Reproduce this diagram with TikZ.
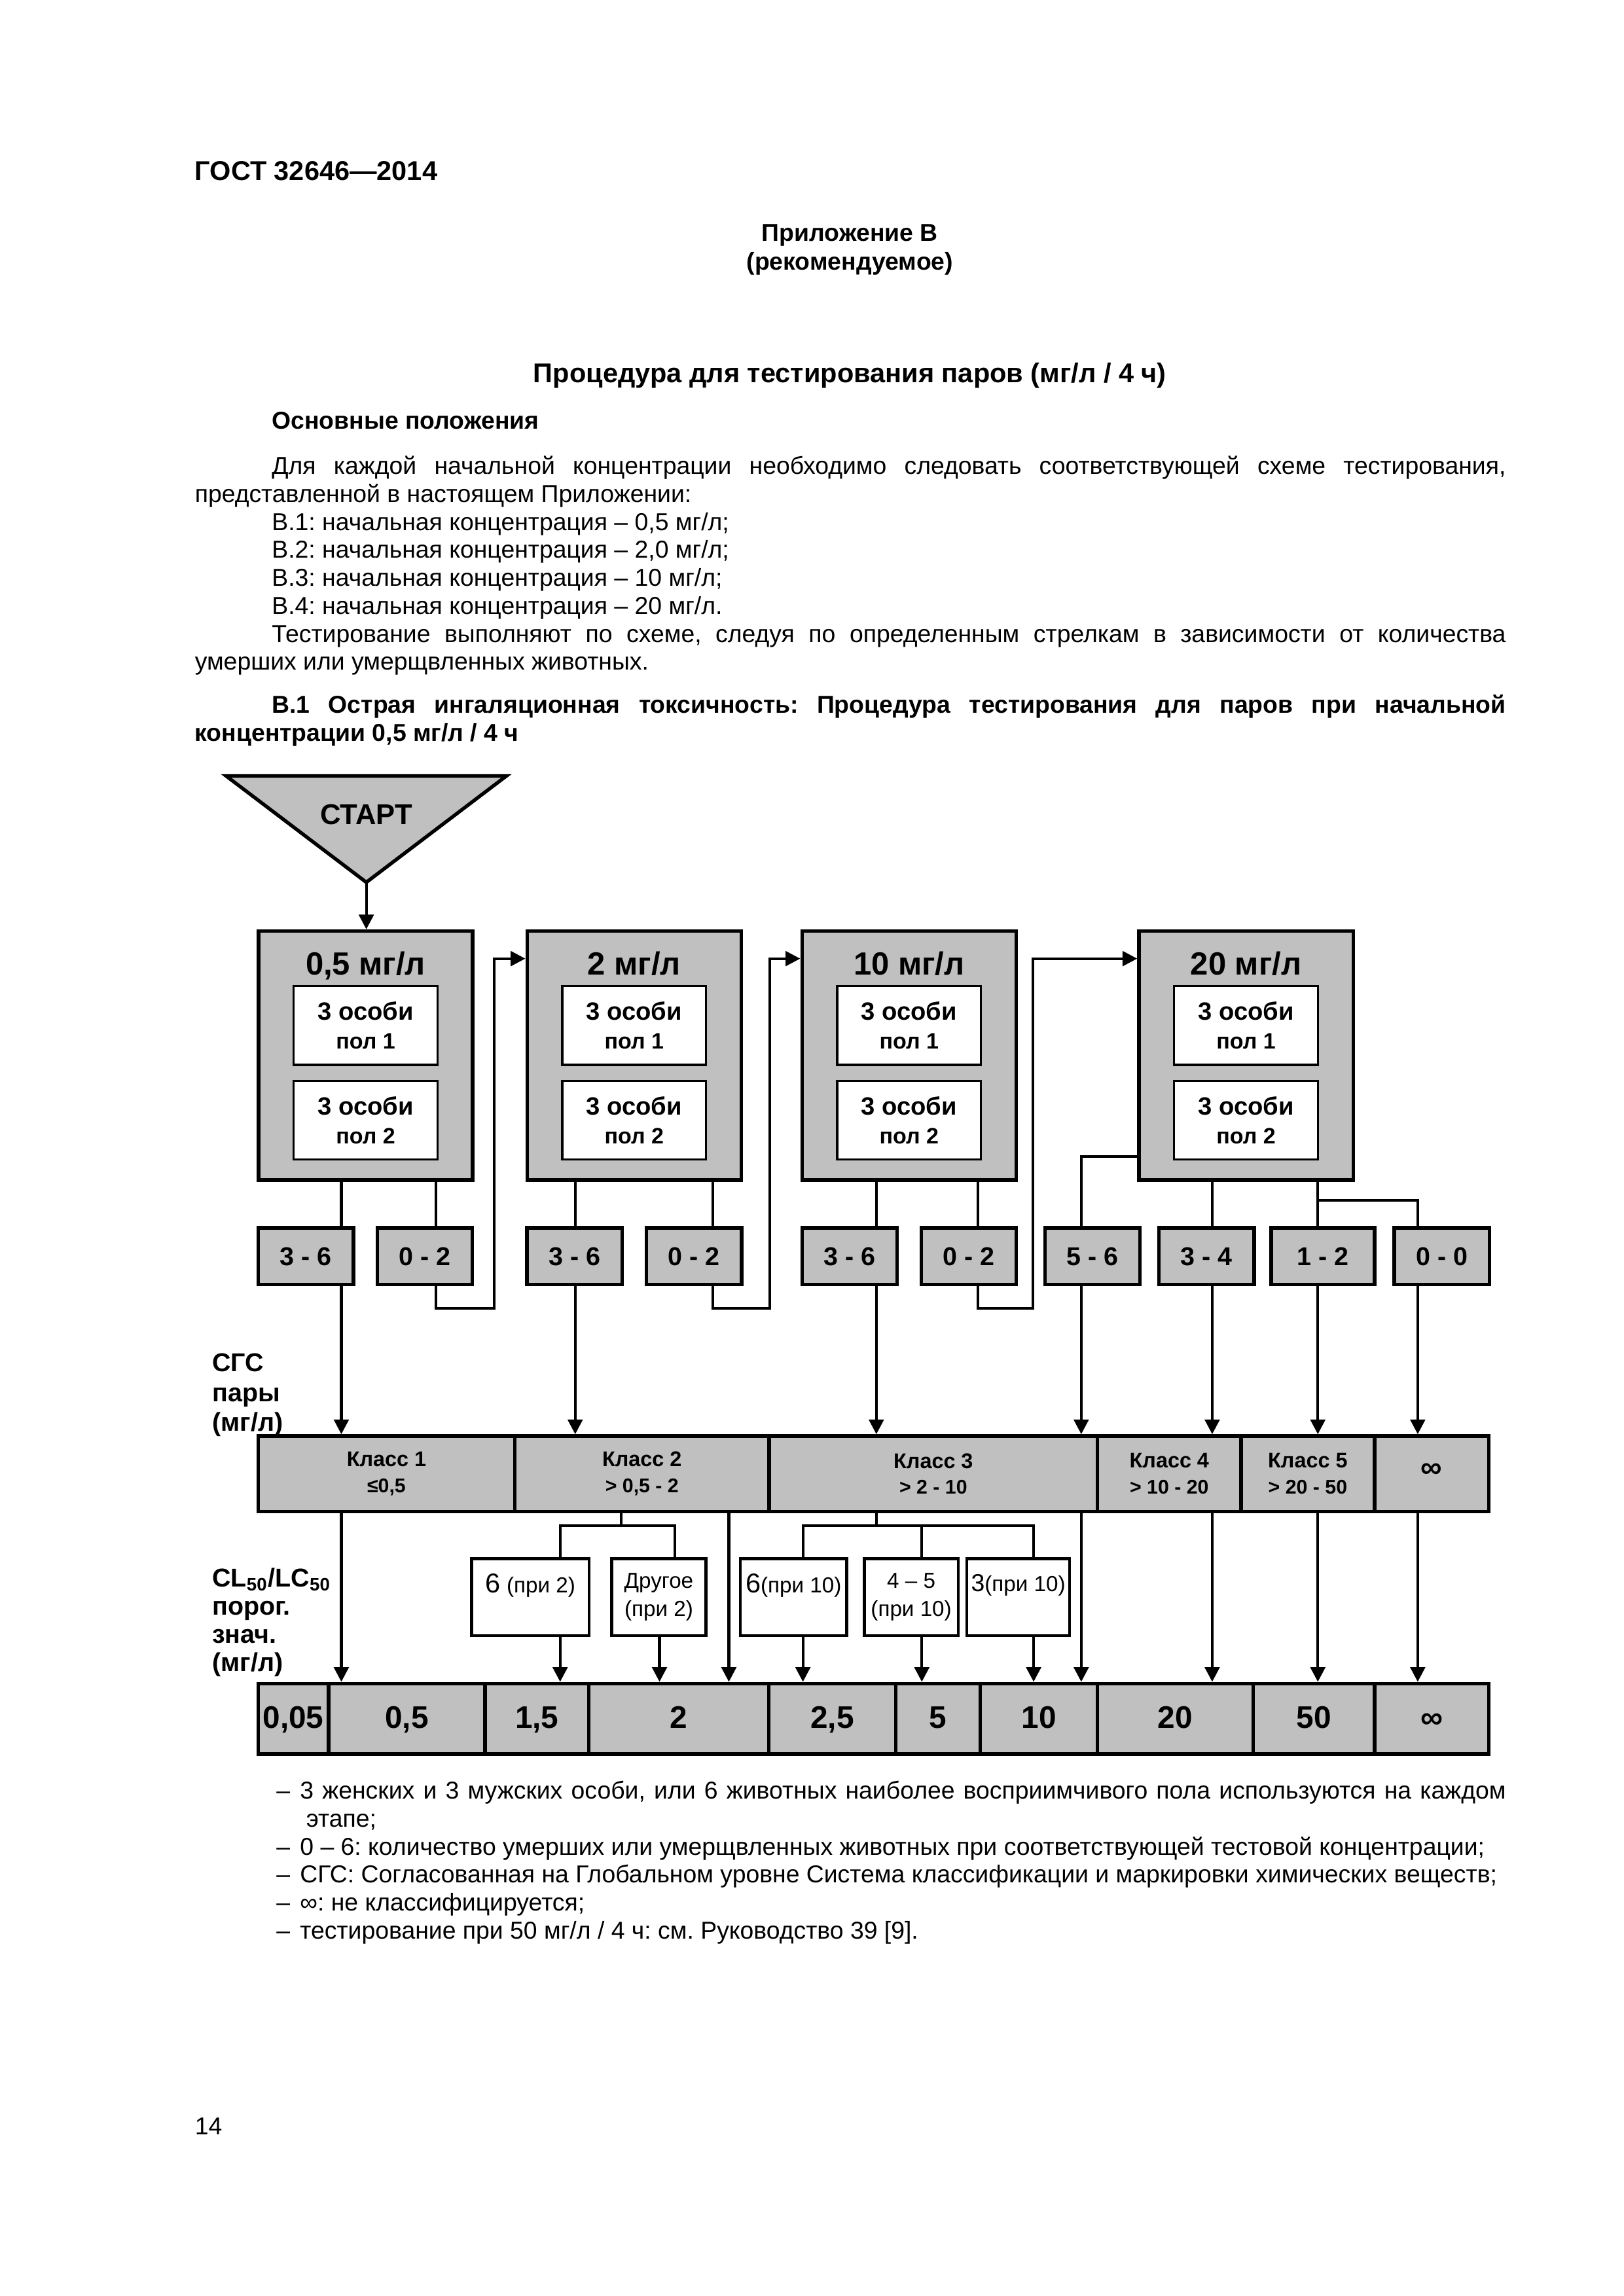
\documentclass[tikz,border=0pt]{standalone}
\usepackage{fontspec}
\setmainfont{Liberation Sans}
\usetikzlibrary{arrows.meta}
\definecolor{boxgray}{RGB}{192,192,192}
\hyphenpenalty=10000
\exhyphenpenalty=10000
\frenchspacing

\begin{document}
\begin{tikzpicture}[x=1mm,y=-1mm,every node/.style={inner sep=0pt},
    bodytext/.style={font=\fontsize{9}{10.3}\selectfont},
    bodybold/.style={font=\bfseries\fontsize{9}{10.45}\selectfont},
    concbox/.style={draw,line width=1.3pt,fill=boxgray,minimum width=27.7mm,minimum height=32.2mm},
    conctitle/.style={font=\bfseries\fontsize{11.8}{13}\selectfont,text height=3mm,text depth=0.6mm},
    groupbox/.style={draw,line width=0.8pt,fill=white,minimum width=18.6mm,minimum height=10.2mm,align=center,font=\bfseries\fontsize{9.2}{10.5}\selectfont},
    outbox/.style={draw,line width=1.3pt,fill=boxgray,minimum width=12.3mm,minimum height=7.3mm,font=\bfseries\fontsize{9.5}{11}\selectfont,text height=2.4mm,text depth=0mm},
    classcell/.style={draw,line width=1.3pt,fill=boxgray,minimum height=9.8mm,align=center,font=\bfseries\fontsize{7.8}{9.6}\selectfont},
    valcell/.style={draw,line width=1.3pt,fill=boxgray,minimum height=9.1mm,font=\bfseries\fontsize{11.5}{13}\selectfont,text height=2.9mm,text depth=0.5mm},
    notebox/.style={draw,line width=1.1pt,fill=white,minimum height=9.95mm,align=center,font=\fontsize{8}{10.3}\selectfont},
    sidelabel/.style={anchor=west,align=left,font=\bfseries\fontsize{9.5}{11}\selectfont},
    conn/.style={line width=1pt},
    arr/.style={conn,-{Triangle[length=1.9mm,width=1.9mm]}}]
    \fill[white] (0,0) rectangle (210,297);
    \useasboundingbox (0,0) rectangle (210,297);

    \node[anchor=base west,font=\bfseries\fontsize{10}{12}\selectfont] (gost) at (25.14,23.34) {ГОСТ 32646—2014};
    \node[anchor=base,bodybold] (annex) at (109.92,31.19) {Приложение В};
    \node[anchor=base,bodybold] (annextype) at (109.92,34.88) {(рекомендуемое)};
    \node[anchor=base,font=\bfseries\fontsize{10}{12}\selectfont] (title) at (109.92,49.5) {Процедура для тестирования паров (мг/л / 4 ч)};
    \node[anchor=base west,bodybold] (basics) at (35.1,55.5) {Основные положения};
    \node[anchor=base west,bodytext,text width=169.56mm,align=justify] (intro) at (25.14,61.35) {\hspace*{9.96mm}Для каждой начальной концентрации необходимо следовать соответствующей схеме тестирования,\linebreak представленной в настоящем Приложении:\par
    \hspace*{9.96mm}В.1: начальная концентрация – 0,5 мг/л;\par
    \hspace*{9.96mm}В.2: начальная концентрация – 2,0 мг/л;\par
    \hspace*{9.96mm}В.3: начальная концентрация – 10 мг/л;\par
    \hspace*{9.96mm}В.4: начальная концентрация – 20 мг/л.\par
    \hspace*{9.96mm}Тестирование выполняют по схеме, следуя по определенным стрелкам в зависимости от количества\linebreak умерших или умерщвленных животных.};
    \node[anchor=base west,bodybold,text width=169.56mm,align=justify] (b1head) at (25.14,92.24) {\hspace*{9.96mm}В.1 Острая ингаляционная токсичность: Процедура тестирования для паров при начальной\linebreak концентрации 0,5 мг/л / 4 ч};

    \draw[line width=1.3pt,fill=boxgray] (29.26,100.38) -- (65.49,100.38) -- (47.38,114.13) -- cycle;
    \coordinate (apex) at (47.38,114.13);
    \node[font=\bfseries\fontsize{10.5}{12}\selectfont] (start) at (47.38,105.39) {СТАРТ};

    \node[concbox] (c1) at (47.29,136.54) {};
    \node[conctitle] (c1t) at (47.29,124.9) {0,5 мг/л};
    \node[groupbox] (c1a) at (47.29,132.65) {3 особи\\{\fontsize{8.2}{10.5}\selectfont пол 1}};
    \node[groupbox] (c1b) at (47.29,144.9) {3 особи\\{\fontsize{8.2}{10.5}\selectfont пол 2}};
    \node[concbox] (c2) at (82.03,136.54) {};
    \node[conctitle] (c2t) at (82.03,124.9) {2 мг/л};
    \node[groupbox] (c2a) at (82.03,132.65) {3 особи\\{\fontsize{8.2}{10.5}\selectfont пол 1}};
    \node[groupbox] (c2b) at (82.03,144.9) {3 особи\\{\fontsize{8.2}{10.5}\selectfont пол 2}};
    \node[concbox] (c3) at (117.58,136.54) {};
    \node[conctitle] (c3t) at (117.58,124.9) {10 мг/л};
    \node[groupbox] (c3a) at (117.58,132.65) {3 особи\\{\fontsize{8.2}{10.5}\selectfont пол 1}};
    \node[groupbox] (c3b) at (117.58,144.9) {3 особи\\{\fontsize{8.2}{10.5}\selectfont пол 2}};
    \node[concbox] (c4) at (161.17,136.54) {};
    \node[conctitle] (c4t) at (161.17,124.9) {20 мг/л};
    \node[groupbox] (c4a) at (161.17,132.65) {3 особи\\{\fontsize{8.2}{10.5}\selectfont пол 1}};
    \node[groupbox] (c4b) at (161.17,144.9) {3 особи\\{\fontsize{8.2}{10.5}\selectfont пол 2}};

    \node[outbox] (o1a) at (39.57,162.49) {3 - 6};
    \node[outbox] (o1b) at (54.95,162.49) {0 - 2};
    \node[outbox] (o2a) at (74.31,162.49) {3 - 6};
    \node[outbox] (o2b) at (89.76,162.49) {0 - 2};
    \node[outbox] (o3a) at (109.88,162.49) {3 - 6};
    \node[outbox] (o3b) at (125.31,162.49) {0 - 2};
    \node[outbox] (o4a) at (141.30,162.49) {5 - 6};
    \node[outbox] (o4b) at (156.05,162.49) {3 - 4};
    \node[outbox,minimum width=13.36mm] (o4c) at (171.10,162.49) {1 - 2};
    \node[outbox] (o4d) at (186.48,162.49) {0 - 0};

    \node[sidelabel] (ghslabel) at (27.39,180.45) {СГС\\пары\\(мг/л)};
    \node[classcell,minimum width=33.21mm] (k1) at (49.99,190.65) {Класс 1\\{\fontsize{7.3}{9}\selectfont ≤0,5}};
    \node[classcell,minimum width=32.89mm] (k2) at (83.04,190.65) {Класс 2\\{\fontsize{7.3}{9}\selectfont > 0,5 - 2}};
    \node[classcell,minimum width=42.47mm] (k3) at (120.72,190.65) {Класс 3\\{\fontsize{7.3}{9}\selectfont > 2 - 10}};
    \node[classcell,minimum width=18.57mm] (k4) at (151.24,190.65) {Класс 4\\{\fontsize{7.3}{9}\selectfont > 10 - 20}};
    \node[classcell,minimum width=17.26mm] (k5) at (169.15,190.65) {Класс 5\\{\fontsize{7.3}{9}\selectfont > 20 - 50}};
    \node[classcell,minimum width=14.78mm,font=\bfseries\fontsize{11}{11}\selectfont] (kinf) at (185.17,190.65) {\raisebox{0.8mm}{∞}};

    \node[sidelabel,font=\bfseries\fontsize{9.5}{10.35}\selectfont] (cllabel) at (27.39,209.85) {CL\textsubscript{50}/LC\textsubscript{50}\\порог.\\знач.\\(мг/л)};
    \node[notebox,minimum width=15.21mm] (b1) at (68.61,206.59) {{\fontsize{10}{10}\selectfont 6} (при 2)\\~};
    \node[notebox,minimum width=12.18mm] (b2) at (85.21,206.59) {Другое\\(при 2)};
    \node[notebox,minimum width=13.74mm] (b3) at (102.63,206.59) {{\fontsize{10}{10}\selectfont 6}(при 10)\\~};
    \node[notebox,minimum width=12.16mm] (b4) at (117.86,206.59) {4 – 5\\(при 10)};
    \node[notebox,minimum width=13.30mm] (b5) at (131.70,206.59) {{\fontsize{9}{10}\selectfont 3}(при 10)\\~};

    \node[valcell,minimum width=9.10mm] (v005) at (37.93,222.33) {0,05};
    \node[valcell,minimum width=20.25mm] (v05) at (52.61,222.33) {0,5};
    \node[valcell,minimum width=13.42mm] (v15) at (69.44,222.33) {1,5};
    \node[valcell,minimum width=23.29mm] (v2) at (87.80,222.33) {2};
    \node[valcell,minimum width=16.44mm] (v25) at (107.66,222.33) {2,5};
    \node[valcell,minimum width=10.92mm] (v5) at (121.34,222.33) {5};
    \node[valcell,minimum width=15.15mm] (v10) at (134.38,222.33) {10};
    \node[valcell,minimum width=20.12mm] (v20) at (152.01,222.33) {20};
    \node[valcell,minimum width=15.71mm] (v50) at (169.93,222.33) {50};
    \node[valcell,minimum width=14.78mm] (vinf) at (185.17,222.33) {∞};

    \coordinate (L1) at (44.15,0);
    \coordinate (L2) at (56.39,0);
    \coordinate (L2r) at (63.89,0);
    \coordinate (L3) at (74.40,0);
    \coordinate (L4) at (92.22,0);
    \coordinate (L4r) at (99.53,0);
    \coordinate (L5) at (113.35,0);
    \coordinate (L6) at (126.50,0);
    \coordinate (L6r) at (133.57,0);
    \coordinate (L7) at (139.85,0);
    \coordinate (L8) at (156.79,0);
    \coordinate (L9) at (170.45,0);
    \coordinate (L10) at (183.37,0);
    \coordinate (K2s) at (80.31,0);
    \coordinate (K2a) at (72.45,0);
    \coordinate (K2b) at (87.26,0);
    \coordinate (K2d) at (85.30,0);
    \coordinate (K2e) at (94.27,0);
    \coordinate (K3a) at (103.85,0);
    \coordinate (K3b) at (119.23,0);
    \coordinate (K3c) at (133.69,0);
    \coordinate (loopy) at (0,169.21);
    \coordinate (entryy) at (0,124.0);
    \coordinate (y56) at (0,149.6);
    \coordinate (y12) at (0,155.3);
    \coordinate (treey) at (0,197.38);

    \draw[arr] (apex) -- (c1.north -| apex);
    \draw[conn] (c1.south -| L1) -- (o1a.north -| L1);
    \draw[conn] (c1.south -| L2) -- (o1b.north -| L2);
    \draw[conn] (c2.south -| L3) -- (o2a.north -| L3);
    \draw[conn] (c2.south -| L4) -- (o2b.north -| L4);
    \draw[conn] (c3.south -| L5) -- (o3a.north -| L5);
    \draw[conn] (c3.south -| L6) -- (o3b.north -| L6);
    \draw[conn] (c4.west |- y56) -| (o4a.north -| L7);
    \draw[conn] (c4.south -| L8) -- (o4b.north -| L8);
    \draw[conn] (c4.south -| L9) -- (o4c.north -| L9);
    \draw[conn] (L9 |- y12) -| (o4d.north -| L10);

    \draw[arr] (o1a.south -| L1) -- (k1.north -| L1);
    \draw[arr] (o1b.south -| L2) |- (L2r |- loopy) |- (c2.west |- entryy);
    \draw[arr] (o2a.south -| L3) -- (k2.north -| L3);
    \draw[arr] (o2b.south -| L4) |- (L4r |- loopy) |- (c3.west |- entryy);
    \draw[arr] (o3a.south -| L5) -- (k3.north -| L5);
    \draw[arr] (o3b.south -| L6) |- (L6r |- loopy) |- (c4.west |- entryy);
    \draw[arr] (o4a.south -| L7) -- (k3.north -| L7);
    \draw[arr] (o4b.south -| L8) -- (k4.north -| L8);
    \draw[arr] (o4c.south -| L9) -- (k5.north -| L9);
    \draw[arr] (o4d.south -| L10) -- (kinf.north -| L10);

    \draw[arr] (k1.south -| L1) -- (v05.north -| L1);
    \draw[conn] (k2.south -| K2s) -- (K2s |- treey);
    \draw[conn] (b1.north -| K2a) |- (K2b |- treey) -- (b2.north -| K2b);
    \draw[arr] (b1.south -| K2a) -- (v15.north -| K2a);
    \draw[arr] (b2.south -| K2d) -- (v2.north -| K2d);
    \draw[arr] (k2.south -| K2e) -- (v2.north -| K2e);
    \draw[conn] (k3.south -| L5) -- (L5 |- treey);
    \draw[conn] (b3.north -| K3a) |- (K3c |- treey) -- (b5.north -| K3c);
    \draw[conn] (K3b |- treey) -- (b4.north -| K3b);
    \draw[arr] (b3.south -| K3a) -- (v25.north -| K3a);
    \draw[arr] (b4.south -| K3b) -- (v5.north -| K3b);
    \draw[arr] (b5.south -| K3c) -- (v10.north -| K3c);
    \draw[arr] (k3.south -| L7) -- (v10.north -| L7);
    \draw[arr] (k4.south -| L8) -- (v20.north -| L8);
    \draw[arr] (k5.south -| L9) -- (v50.north -| L9);
    \draw[arr] (kinf.south -| L10) -- (vinf.north -| L10);

    \node[anchor=base west,bodytext,text width=159.02mm,align=justify] (notes) at (35.68,232.7) {\hangindent=3.86mm\makebox[3.06mm][l]{–}3 женских и 3 мужских особи, или 6 животных наиболее восприимчивого пола используются на каждом\linebreak этапе;\par
    \makebox[3.06mm][l]{–}\mbox{0 – 6: количество умерших или умерщвленных животных при соответствующей тестовой концентрации;}\par
    \makebox[3.06mm][l]{–}\mbox{СГС: Согласованная на Глобальном уровне Система классификации и маркировки химических веществ;}\par
    \makebox[3.06mm][l]{–}\mbox{∞: не классифицируется;}\par
    \makebox[3.06mm][l]{–}\mbox{тестирование при 50 мг/л / 4 ч: см. Руководство 39 [9].}};
    \node[anchor=base west,bodytext] (page) at (25.14,276.1) {14};
\end{tikzpicture}
\end{document}
